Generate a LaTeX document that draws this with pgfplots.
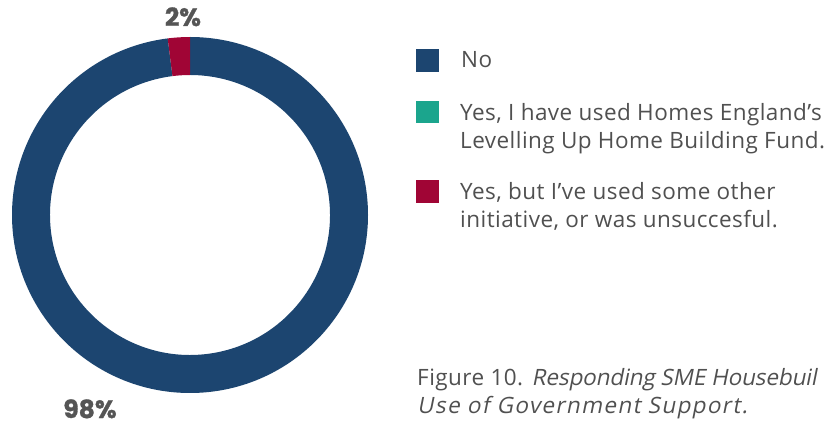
\documentclass[border=0pt]{standalone}
\usepackage{pgfplots}
\pgfplotsset{compat=1.18}
\usepackage{pgfplotstable}
\usepackage{fontspec}
\setmainfont{Open Sans}[LetterSpace=2]
\newfontfamily\capitA{Open Sans}[FakeSlant=0.2, LetterSpace=-0.5]
\newfontfamily\capitB{Open Sans}[FakeSlant=0.2, LetterSpace=6]
\newfontfamily\caprm{Open Sans}[LetterSpace=2]
\newfontfamily\labelfont{Poppins}[BoldFeatures={FakeBold=1.2}]
\definecolor{cNo}{HTML}{1C4570}
\definecolor{cHE}{HTML}{1BA58D}
\definecolor{cOther}{HTML}{A00535}
\definecolor{txt}{HTML}{505050}
\definecolor{lbl}{HTML}{555555}

\pgfplotstableread{
label value
No 98
HomesEngland 0
Other 2
}\piedata

\begin{document}
\begin{tikzpicture}
\useasboundingbox (0,0) rectangle (828bp,426bp);
\pgfplotstablegetelem{0}{value}\of\piedata \let\vNo\pgfplotsretval
\pgfplotstablegetelem{1}{value}\of\piedata \let\vHE\pgfplotsretval
\pgfplotstablegetelem{2}{value}\of\piedata \let\vOther\pgfplotsretval
\pgfmathsetmacro\aA{90}
\pgfmathsetmacro\aB{\aA-3.6*\vNo}
\pgfmathsetmacro\aC{\aB-3.6*\vHE}
\pgfmathsetmacro\aD{\aC-3.6*\vOther}
\def\Ro{178bp}
\def\Ri{140bp}
\begin{axis}[
  at={(190bp,211bp)}, anchor=center,
  scale only axis, width=356bp, height=356bp,
  xmin=-1, xmax=1, ymin=-1, ymax=1,
  hide axis, clip=false]
\fill[cNo] ([shift={(\aA:\Ro)}]axis cs:0,0) arc[start angle=\aA, end angle=\aB, radius=\Ro]
  -- ([shift={(\aB:\Ri)}]axis cs:0,0) arc[start angle=\aB, end angle=\aA, radius=\Ri] -- cycle;
\fill[cHE] ([shift={(\aB:\Ro)}]axis cs:0,0) arc[start angle=\aB, end angle=\aC, radius=\Ro]
  -- ([shift={(\aC:\Ri)}]axis cs:0,0) arc[start angle=\aC, end angle=\aB, radius=\Ri] -- cycle;
\fill[cOther] ([shift={(\aC:\Ro)}]axis cs:0,0) arc[start angle=\aC, end angle=\aD, radius=\Ro]
  -- ([shift={(\aD:\Ri)}]axis cs:0,0) arc[start angle=\aD, end angle=\aC, radius=\Ri] -- cycle;
\end{axis}
% percentage labels
\begin{scope}[every node/.style={lbl, inner sep=0pt, anchor=base, font=\labelfont\bfseries\fontsize{25bp}{30bp}\selectfont}]
\node at (183bp,400bp) {\vOther\%};
\node at (90bp,8bp) {\vNo\%};
\end{scope}
% legend
\fill[cNo] (416bp,354bp) rectangle (439bp,377bp);
\fill[cHE] (416bp,303bp) rectangle (439bp,325bp);
\fill[cOther] (416bp,223bp) rectangle (439bp,246bp);
\begin{scope}[every node/.style={txt, anchor=base west, inner sep=0pt, font=\fontsize{22.5bp}{28bp}\selectfont}]
\node at (461bp,358bp) {No};
\node at (460bp,305bp) {Yes, I have used Homes England’s};
\node at (460bp,277bp) {Levelling Up Home Building Fund.};
\node at (460bp,226bp) {Yes, but I’ve used some other};
\node at (460bp,198bp) {initiative, or was unsuccesful.};
\node at (417bp,40bp) {\caprm Figure 10. \capitA Responding SME Housebuil};
\node at (417bp,13bp) {\capitB Use of Government Support.};
\end{scope}
\end{tikzpicture}
\end{document}
